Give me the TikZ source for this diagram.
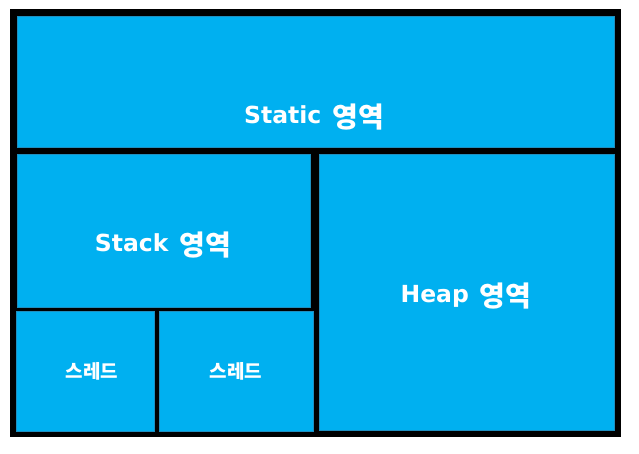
\documentclass[tikz,border=0pt]{standalone}
\usepackage{fontspec}
\setmainfont{Noto Sans CJK KR}
\newfontfamily\latfont{DejaVu Sans}
\newfontfamily\korfont{Noto Sans CJK KR}
\definecolor{areablue}{HTML}{00B0F0}
\definecolor{edgeblue}{HTML}{1F8FC0}
\newcommand{\arealabel}[2]{{\latfont\bfseries\fontsize{23.5}{28}\selectfont #1}\hspace{11pt}\raisebox{-4.5pt}{\korfont\bfseries\fontsize{28}{32}\selectfont #2}}
\tikzset{
  area/.style={fill=areablue, draw=edgeblue, line width=0.6pt},
  bigtext/.style={text=white, inner sep=0pt, anchor=base},
  smalltext/.style={text=white, font=\korfont\bfseries\fontsize{19}{22}\selectfont, inner sep=0pt}
}
\begin{document}
\begin{tikzpicture}[x=1pt,y=-1pt]
\useasboundingbox (0,0) rectangle (639,453);
\fill[black] (10,9) rectangle (621,437);
\filldraw[area] (17,16) rectangle (614,147);
\filldraw[area] (17,154) rectangle (310,307);
\filldraw[area] (319,154) rectangle (614,430);
\filldraw[area] (16,311) rectangle (154,431);
\filldraw[area] (159,311) rectangle (313,431);
\node[bigtext] (static) at (314,123) {\arealabel{Static}{영역}};
\node[bigtext] (stack) at (163,251) {\arealabel{Stack}{영역}};
\node[bigtext] (heap) at (466,302) {\arealabel{Heap}{영역}};
\node[smalltext] (t1) at (92,371) {스레드};
\node[smalltext] (t2) at (236,371) {스레드};
\end{tikzpicture}
\end{document}
